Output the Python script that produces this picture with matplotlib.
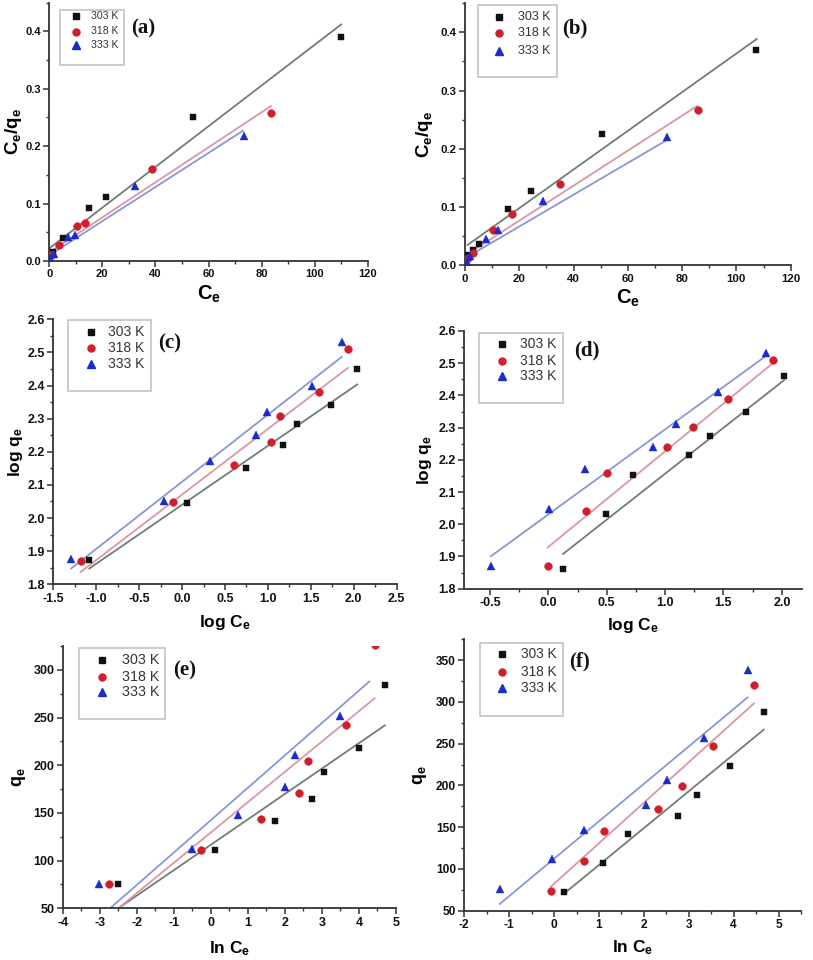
import matplotlib
matplotlib.use("Agg")
import matplotlib.pyplot as plt
from matplotlib.patches import Rectangle
from matplotlib.ticker import MultipleLocator, FormatStrFormatter
import numpy as np

plt.rcParams['font.family'] = ['Liberation Sans', 'DejaVu Sans']
plt.rcParams['mathtext.fontset'] = 'custom'
plt.rcParams['mathtext.rm'] = 'Liberation Sans'
plt.rcParams['mathtext.bf'] = 'Liberation Sans:bold'
plt.rcParams['mathtext.it'] = 'Liberation Sans:italic'

temps = ["303 K", "318 K", "333 K"]

# ---------------- data (a) Langmuir, adsorbent 1 ----------------
a_x_303 = [0.5, 1.5, 5.3, 14.8, 21.4, 54.3, 110.0]
a_y_303 = [0.008, 0.015, 0.040, 0.092, 0.112, 0.250, 0.390]
a_x_318 = [0.8, 3.8, 10.4, 13.6, 38.8, 83.6]
a_y_318 = [0.010, 0.027, 0.061, 0.067, 0.161, 0.257]
a_x_333 = [0.4, 1.9, 7.2, 9.8, 32.3, 73.3]
a_y_333 = [0.006, 0.013, 0.042, 0.046, 0.131, 0.217]
a_fit_slope = [0.003545, 0.00305, 0.00297]
a_fit_icept = [0.022, 0.015, 0.010]
a_fit_x0 = [0.0, 0.0, 0.0]
a_fit_x1 = [110.0, 83.5, 73.0]

# ---------------- data (b) Langmuir, adsorbent 2 ----------------
b_x_303 = [0.4, 3.1, 5.2, 15.8, 24.2, 50.6, 107.2]
b_y_303 = [0.017, 0.027, 0.037, 0.097, 0.128, 0.226, 0.370]
b_x_318 = [1.2, 3.1, 10.2, 17.3, 35.0, 85.9]
b_y_318 = [0.012, 0.021, 0.061, 0.088, 0.140, 0.267]
b_x_333 = [0.7, 2.0, 7.7, 12.3, 28.9, 74.3]
b_y_333 = [0.006, 0.016, 0.045, 0.061, 0.110, 0.221]
b_fit_slope = [0.00332, 0.003006, 0.00273]
b_fit_icept = [0.0317, 0.0165, 0.012]
b_fit_x0 = [1.0, 0.5, 0.3]
b_fit_x1 = [107.5, 85.5, 74.0]

# ---------------- data (c) Freundlich, adsorbent 1 ----------------
c_x_303 = [-1.08, 0.06, 0.75, 1.18, 1.34, 1.74, 2.04]
c_y_303 = [1.873, 2.046, 2.150, 2.221, 2.285, 2.340, 2.450]
c_x_318 = [-1.18, -0.11, 0.60, 1.03, 1.14, 1.59, 1.93]
c_y_318 = [1.870, 2.048, 2.159, 2.230, 2.309, 2.380, 2.509]
c_x_333 = [-1.29, -0.21, 0.33, 0.86, 0.99, 1.51, 1.86]
c_y_333 = [1.876, 2.052, 2.171, 2.252, 2.321, 2.400, 2.531]
c_fit_slope = [0.178, 0.198, 0.2027]
c_fit_icept = [2.040, 2.071, 2.1095]
c_fit_x0 = [-1.08, -1.18, -1.29]
c_fit_x1 = [2.04, 1.93, 1.86]

# ---------------- data (d) Freundlich, adsorbent 2 ----------------
d_x_303 = [0.126, 0.494, 0.729, 1.206, 1.383, 1.694, 2.020]
d_y_303 = [1.860, 2.033, 2.154, 2.215, 2.275, 2.350, 2.460]
d_x_318 = [-0.006, 0.32, 0.503, 1.017, 1.243, 1.537, 1.923]
d_y_318 = [1.870, 2.040, 2.160, 2.241, 2.301, 2.390, 2.510]
d_x_333 = [-0.491, 0.006, 0.311, 0.897, 1.094, 1.457, 1.863]
d_y_333 = [1.872, 2.046, 2.172, 2.241, 2.312, 2.412, 2.533]
d_fit_slope = [0.285, 0.2966, 0.264]
d_fit_icept = [1.872, 1.9298, 2.0306]
d_fit_x0 = [0.126, -0.006, -0.491]
d_fit_x1 = [2.02, 1.923, 1.863]

# ---------------- data (e) Temkin, adsorbent 1 ----------------
e_x_303 = [-2.50, 0.12, 1.72, 2.72, 3.06, 3.99, 4.69]
e_y_303 = [75.1, 111.0, 141.7, 165.1, 193.4, 218.4, 284.3]
e_x_318 = [-2.74, -0.27, 1.36, 2.37, 2.63, 3.65, 4.42]
e_y_318 = [75.1, 111.4, 144.1, 171.3, 204.1, 241.8, 326.0]
e_x_333 = [-3.01, -0.52, 0.74, 1.99, 2.28, 3.48]
e_y_333 = [75.5, 112.1, 147.3, 177.3, 210.7, 251.5]
e_fit_slope = [26.64, 31.8, 33.97]
e_fit_icept = [116.6, 129.5, 142.4]
e_fit_x0 = [-2.5, -2.5, -2.72]
e_fit_x1 = [4.70, 4.42, 4.28]

# ---------------- data (f) Temkin, adsorbent 2 ----------------
f_x_303 = [0.23, 1.10, 1.64, 2.76, 3.18, 3.91, 4.67]
f_y_303 = [72.7, 107.7, 142.3, 163.4, 188.5, 223.5, 288.4]
f_x_318 = [-0.075, 0.675, 1.12, 2.31, 2.84, 3.54, 4.45]
f_y_318 = [73.5, 109.7, 145.5, 172.2, 198.8, 247.4, 320.2]
f_x_333 = [-1.21, -0.05, 0.675, 2.04, 2.51, 3.35, 4.31]
f_y_333 = [75.5, 111.7, 147.1, 176.5, 206.4, 256.9, 338.5]
f_fit_slope = [44.15, 48.5, 44.8]
f_fit_icept = [60.6, 82.3, 112.3]
f_fit_x0 = [0.23, -0.075, -1.21]
f_fit_x1 = [4.67, 4.45, 4.31]

# ---------------- styling ----------------
W, H = 813, 960
fig = plt.figure(figsize=(W / 100, H / 100), dpi=100)

marker_styles = [dict(marker='s', color='#111111', ms=4.8),
                 dict(marker='o', color='#d01f2c', ms=5.6),
                 dict(marker='^', color='#1b2ccc', ms=5.8)]
line_colors = ['#6d7f72', '#d897a3', '#8896d8']
axis_color = '#333333'


def px_axes(x0, y0, x1, y1):
    return fig.add_axes([x0 / W, (H - y1) / H, (x1 - x0) / W, (y1 - y0) / H])


def frac(ax, px, py):
    bb = ax.get_position()
    fx, fy = px / W, (H - py) / H
    return (fx - bb.x0) / bb.width, (fy - bb.y0) / bb.height


panels = [
    dict(tag='(a)', rect=(49.3, 2.6, 367.7, 261.0), xlim=(0, 120), ylim=(0, 0.45),
         xmaj=20, xmin=10, ymaj=0.1, ymin=0.05, yfmt='%.1f', xfmt='%d',
         xlabel=r'$\mathbf{C_e}$', ylabel=r'$\mathbf{C_e/q_e}$',
         xs=[a_x_303, a_x_318, a_x_333], ys=[a_y_303, a_y_318, a_y_333],
         fit=(a_fit_slope, a_fit_icept, a_fit_x0, a_fit_x1),
         frame=(60, 10, 124, 65), rows=(16, 31.5, 44.5), mk_x=75.5, tx_x=90.5,
         lab=(143, 28), fs_leg=7.6, fs_tick=8, fs_lab=13.5, fs_xlab=14.5, xlabpad=3, ylabpad=1),
    dict(tag='(b)', rect=(465, 3.2, 790.7, 265.3), xlim=(0, 120), ylim=(0, 0.45),
         xmaj=20, xmin=10, ymaj=0.1, ymin=0.05, yfmt='%.1f', xfmt='%d',
         xlabel=r'$\mathbf{C_e}$', ylabel=r'$\mathbf{C_e/q_e}$',
         xs=[b_x_303, b_x_318, b_x_333], ys=[b_y_303, b_y_318, b_y_333],
         fit=(b_fit_slope, b_fit_icept, b_fit_x0, b_fit_x1),
         frame=(478.3, 5, 556.7, 77), rows=(16.7, 33.3, 50.7), mk_x=499.3, tx_x=517.7,
         lab=(575, 28.3), fs_leg=9, fs_tick=8.2, fs_lab=13.5, fs_xlab=14.5, xlabpad=3, ylabpad=4),
    dict(tag='(c)', rect=(53.3, 319.3, 396.7, 584.3), xlim=(-1.5, 2.5), ylim=(1.8, 2.6),
         xmaj=0.5, xmin=0.25, ymaj=0.1, ymin=0.05, yfmt='%.1f', xfmt='%.1f',
         xlabel=r'$\mathbf{log\ C_e}$', ylabel=r'$\mathbf{log\ q_e}$',
         xs=[c_x_303, c_x_318, c_x_333], ys=[c_y_303, c_y_318, c_y_333],
         fit=(c_fit_slope, c_fit_icept, c_fit_x0, c_fit_x1),
         frame=(68.3, 320, 151, 390.7), rows=(332.3, 348.3, 364), mk_x=90.7, tx_x=108.3,
         lab=(170, 343), fs_leg=10, fs_tick=9, fs_lab=12.5, fs_xlab=12.5, xlabpad=6, ylabpad=2),
    dict(tag='(d)', rect=(464.3, 331, 801.7, 588.7), xlim=(-0.72, 2.17), ylim=(1.8, 2.6),
         xmaj=0.5, xmin=0.25, ymaj=0.1, ymin=0.05, yfmt='%.1f', xfmt='%.1f',
         xlabel=r'$\mathbf{log\ C_e}$', ylabel=r'$\mathbf{log\ q_e}$',
         xs=[d_x_303, d_x_318, d_x_333], ys=[d_y_303, d_y_318, d_y_333],
         fit=(d_fit_slope, d_fit_icept, d_fit_x0, d_fit_x1),
         frame=(479, 332.7, 563.3, 402.7), rows=(344.3, 360.7, 376), mk_x=501.7, tx_x=520,
         lab=(586.7, 350), fs_leg=10, fs_tick=9, fs_lab=12.5, fs_xlab=12.5, xlabpad=5, ylabpad=3),
    dict(tag='(e)', rect=(62.7, 646, 396, 908.3), xlim=(-4, 5), ylim=(50, 325),
         xmaj=1, xmin=0.5, ymaj=50, ymin=25, yfmt='%d', xfmt='%d',
         xlabel=r'$\mathbf{ln\ C_e}$', ylabel=r'$\mathbf{q_e}$',
         xs=[e_x_303, e_x_318, e_x_333], ys=[e_y_303, e_y_318, e_y_333],
         fit=(e_fit_slope, e_fit_icept, e_fit_x0, e_fit_x1),
         frame=(79, 648.3, 165, 719.3), rows=(660, 676.7, 692.3), mk_x=101.7, tx_x=121.7,
         lab=(185, 670), fs_leg=10.3, fs_tick=9, fs_lab=13, fs_xlab=12.5, xlabpad=8, ylabpad=4),
    dict(tag='(f)', rect=(464.3, 639.3, 801, 910.7), xlim=(-2, 5.5), ylim=(50, 375),
         xmaj=1, xmin=0.5, ymaj=50, ymin=25, yfmt='%d', xfmt='%d',
         xlabel=r'$\mathbf{ln\ C_e}$', ylabel=r'$\mathbf{q_e}$',
         xs=[f_x_303, f_x_318, f_x_333], ys=[f_y_303, f_y_318, f_y_333],
         fit=(f_fit_slope, f_fit_icept, f_fit_x0, f_fit_x1),
         frame=(480, 642.7, 562.7, 716), rows=(654.3, 671.7, 688.3), mk_x=501.7, tx_x=521,
         lab=(580, 661.7), fs_leg=9.8, fs_tick=8.6, fs_lab=13, fs_xlab=12.5, xlabpad=5, ylabpad=5),
]

for p in panels:
    ax = px_axes(*p['rect'])
    ax.set_xlim(*p['xlim'])
    ax.set_ylim(*p['ylim'])
    for s in ('top', 'right'):
        ax.spines[s].set_visible(False)
    for s in ('left', 'bottom'):
        ax.spines[s].set_color(axis_color)
        ax.spines[s].set_linewidth(1.3)
    ax.xaxis.set_major_locator(MultipleLocator(p['xmaj']))
    ax.xaxis.set_minor_locator(MultipleLocator(p['xmin']))
    ax.yaxis.set_major_locator(MultipleLocator(p['ymaj']))
    ax.yaxis.set_minor_locator(MultipleLocator(p['ymin']))
    ax.xaxis.set_major_formatter(FormatStrFormatter(p['xfmt']))
    ax.yaxis.set_major_formatter(FormatStrFormatter(p['yfmt']))
    ax.tick_params(which='major', direction='out', length=4, width=1.1, color=axis_color,
                   labelsize=p['fs_tick'], pad=2)
    ax.tick_params(which='minor', direction='out', length=2.5, width=1.0, color=axis_color)
    for lbl in ax.get_xticklabels() + ax.get_yticklabels():
        lbl.set_fontweight('bold')
        lbl.set_color('#111111')
    ax.set_xlabel(p['xlabel'], fontsize=p['fs_xlab'], labelpad=p['xlabpad'])
    ax.set_ylabel(p['ylabel'], fontsize=p['fs_lab'], labelpad=p['ylabpad'])

    slopes, icepts, x0s, x1s = p['fit']
    for i in range(3):
        xx = np.linspace(x0s[i], x1s[i], 2)
        ax.plot(xx, slopes[i] * xx + icepts[i], color=line_colors[i], lw=1.3, zorder=2)
    for i in range(3):
        ax.plot(p['xs'][i], p['ys'][i], ls='none', zorder=3, clip_on=True,
                markeredgewidth=0.3, markeredgecolor=marker_styles[i]['color'],
                marker=marker_styles[i]['marker'], color=marker_styles[i]['color'],
                ms=marker_styles[i]['ms'])

    # legend frame
    fx0, fy0, fx1, fy1 = p['frame']
    ax0, ay1 = frac(ax, fx0, fy0)
    ax1, ay0 = frac(ax, fx1, fy1)
    ax.add_patch(Rectangle((ax0, ay0), ax1 - ax0, ay1 - ay0, transform=ax.transAxes,
                           facecolor='white', edgecolor='#c4c4c4', lw=1.2, zorder=4,
                           clip_on=False))
    for i, ry in enumerate(p['rows']):
        mx, my = frac(ax, p['mk_x'], ry)
        tx, _ = frac(ax, p['tx_x'], ry)
        ax.plot([mx], [my], transform=ax.transAxes, ls='none', zorder=5, clip_on=False,
                marker=marker_styles[i]['marker'], color=marker_styles[i]['color'],
                ms=marker_styles[i]['ms'] * 0.9)
        ax.text(tx, my, temps[i], transform=ax.transAxes, fontsize=p['fs_leg'],
                color='#333333', va='center', ha='left', zorder=5)
    lx, ly = frac(ax, *p['lab'])
    ax.text(lx, ly, p['tag'], transform=ax.transAxes, fontsize=15, fontweight='bold',
            family=['Liberation Serif', 'DejaVu Serif'], ha='center', va='center',
            color='#111111', zorder=5)

fig.savefig('out.png', dpi=100)
